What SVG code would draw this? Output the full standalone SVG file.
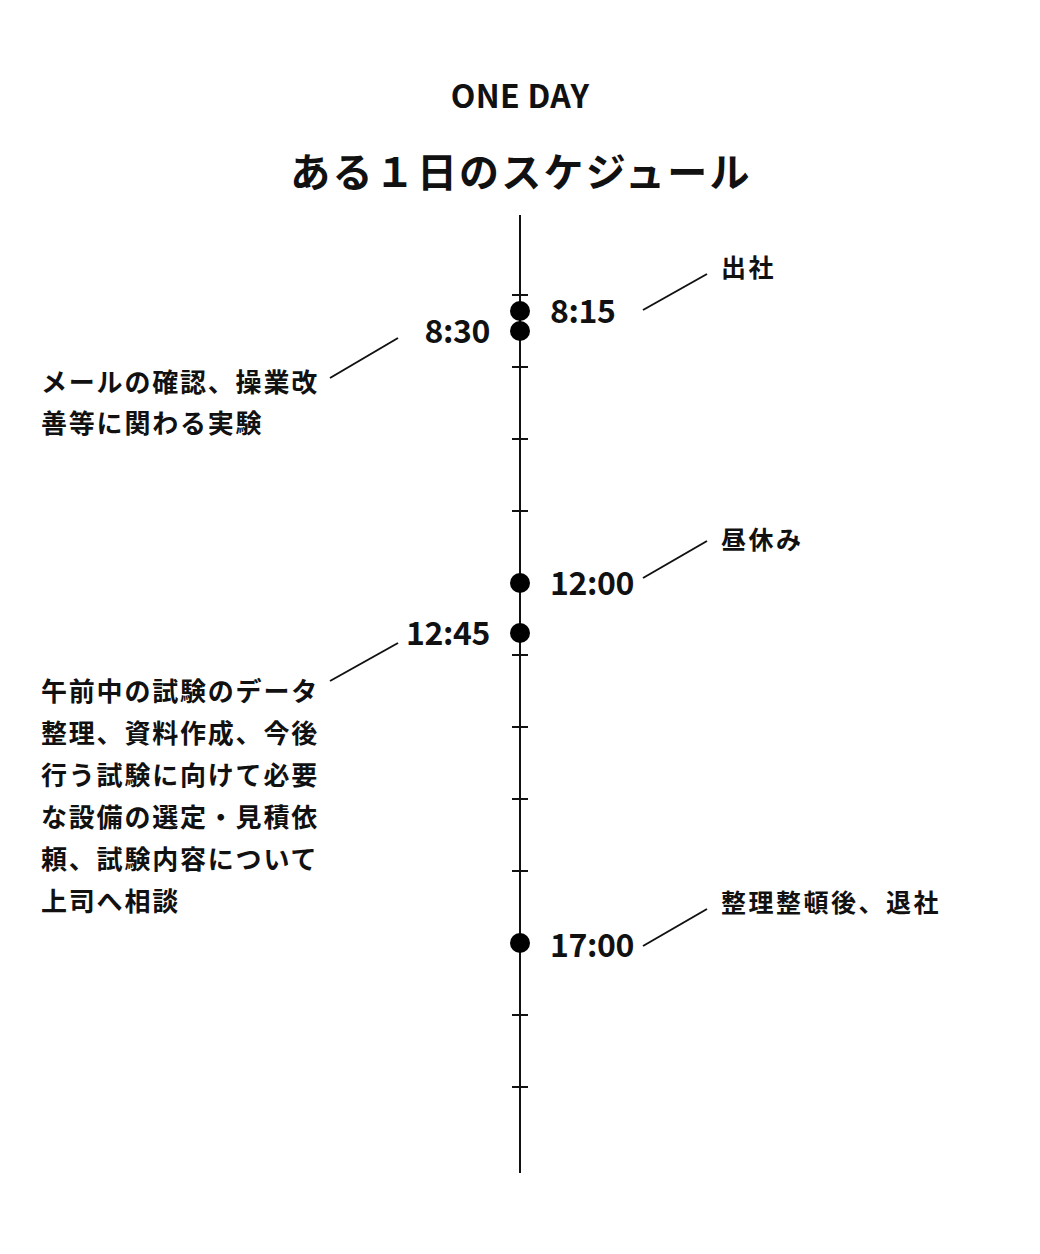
<svg xmlns="http://www.w3.org/2000/svg" width="1040" height="1254" viewBox="0 0 1040 1254">
<style>
text{font-family:"Noto Sans CJK JP","Noto Sans",sans-serif;fill:#111}
.t1{font-size:32px;font-weight:700;letter-spacing:0.3px}
.t2{font-size:40px;font-weight:700;letter-spacing:2.2px}
.time{font-size:32px;font-weight:700;letter-spacing:-0.4px}
.lbl{font-size:25px;font-weight:700;letter-spacing:2.5px}
.desc{font-size:26px;font-weight:700;letter-spacing:1.8px}
.ln{stroke:#111;stroke-width:2;fill:none}
.dot{fill:#000}
</style>
<rect width="1040" height="1254" fill="#fff"/>
<g id="title">
<text class="t1" x="520" y="108" text-anchor="middle">ONE DAY</text>
<text class="t2" x="521" y="187" text-anchor="middle">ある１日のスケジュール</text>
</g>
<g id="connectors">
<line class="ln" x1="520" y1="215" x2="520" y2="1173"/>
<path class="ln" d="M512 295H528M512 367H528M512 439H528M512 511H528M512 583H528M512 655H528M512 727H528M512 799H528M512 871H528M512 943H528M512 1015H528M512 1087H528"/>
<line class="ln" x1="643" y1="310" x2="707" y2="274"/>
<line class="ln" x1="330" y1="378" x2="398" y2="338"/>
<line class="ln" x1="643" y1="578" x2="707" y2="541"/>
<line class="ln" x1="330" y1="681" x2="398" y2="643"/>
<line class="ln" x1="643" y1="946" x2="707" y2="909"/>
</g>
<g id="n815">
<circle class="dot" cx="520" cy="311" r="10"/>
<text class="time" x="550" y="323">8:15</text>
<text class="lbl" x="721" y="277">出社</text>
</g>
<g id="n830">
<circle class="dot" cx="520" cy="331" r="10"/>
<text class="time" x="490" y="343" text-anchor="end">8:30</text>
<text class="desc" x="41" y="392">メールの確認、操業改</text>
<text class="desc" x="41" y="433">善等に関わる実験</text>
</g>
<g id="n1200">
<circle class="dot" cx="520" cy="583" r="10"/>
<text class="time" x="550" y="595">12:00</text>
<text class="lbl" x="721" y="549">昼休み</text>
</g>
<g id="n1245">
<circle class="dot" cx="520" cy="633" r="10"/>
<text class="time" x="490" y="645" text-anchor="end">12:45</text>
<text class="desc" x="41" y="701">午前中の試験のデータ</text>
<text class="desc" x="41" y="743">整理、資料作成、今後</text>
<text class="desc" x="41" y="785">行う試験に向けて必要</text>
<text class="desc" x="41" y="827">な設備の選定・見積依</text>
<text class="desc" x="41" y="869">頼、試験内容について</text>
<text class="desc" x="41" y="911">上司へ相談</text>
</g>
<g id="n1700">
<circle class="dot" cx="520" cy="943" r="10"/>
<text class="time" x="550" y="957">17:00</text>
<text class="lbl" x="721" y="912">整理整頓後、退社</text>
</g>
</svg>
